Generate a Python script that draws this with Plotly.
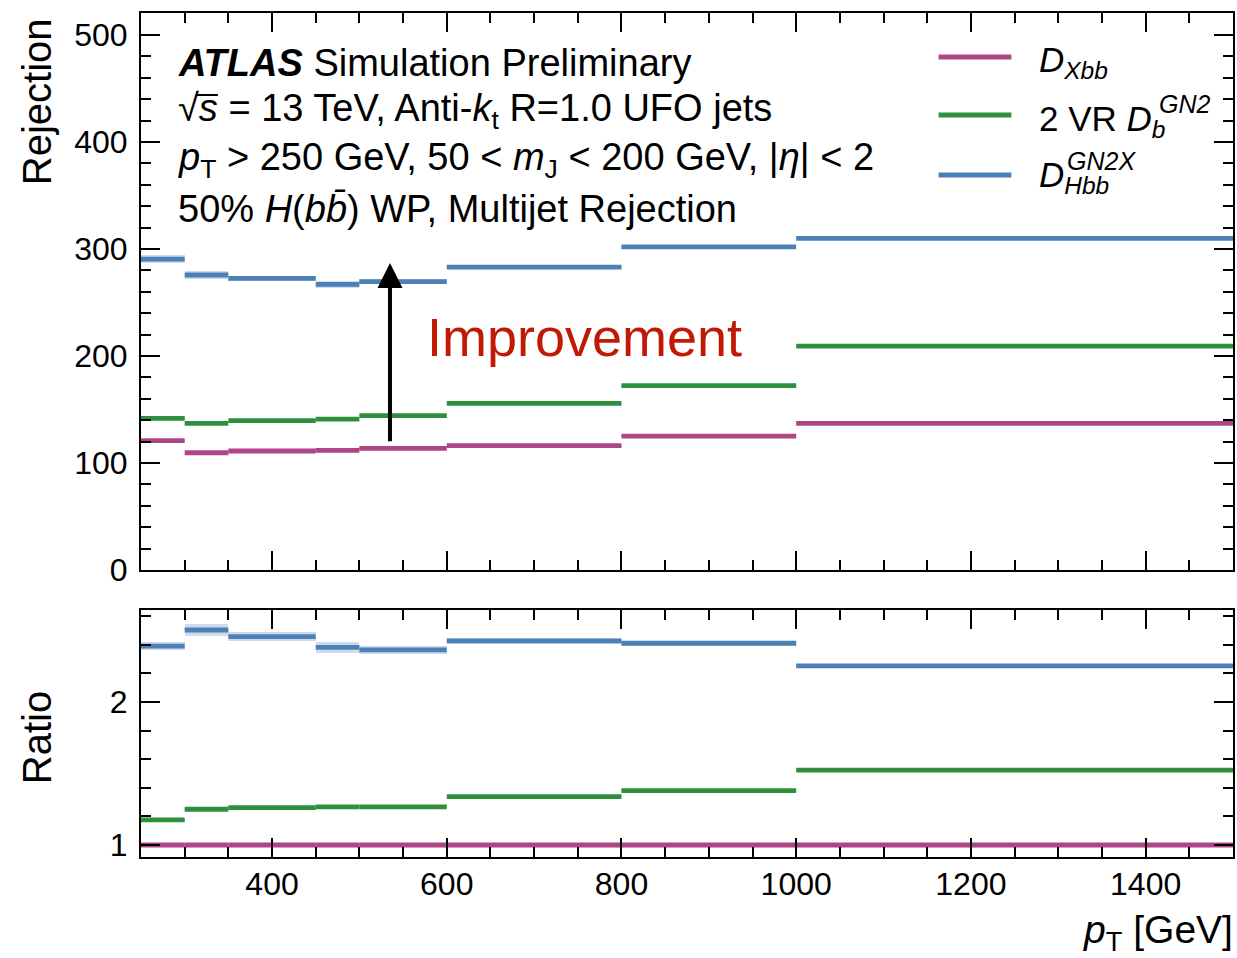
import plotly.graph_objects as go

# ---------------- data ----------------
edges = [250, 300, 350, 450, 500, 600, 800, 1000, 1500]

rej_xbb = [120.9, 109.6, 111.2, 111.8, 113.7, 116.2, 125.2, 137.1]
rej_vr = [141.8, 137.0, 139.6, 141.1, 144.2, 155.8, 172.3, 209.3]
rej_gn2x = [290.5, 275.7, 272.6, 267.0, 269.5, 283.0, 302.0, 310.0]
rej_xbb_err = [1.0, 1.0, 0.8, 1.0, 0.8, 0.8, 0.8, 0.8]
rej_vr_err = [1.2, 1.2, 1.0, 1.2, 1.0, 1.0, 1.0, 1.0]
rej_gn2x_err = [3.5, 3.5, 2.5, 3.5, 2.5, 2.0, 2.0, 2.0]

ratio_xbb = [1.0, 1.0, 1.0, 1.0, 1.0, 1.0, 1.0, 1.0]
ratio_vr = [1.175, 1.25, 1.261, 1.266, 1.266, 1.338, 1.38, 1.524]
ratio_gn2x = [2.39, 2.503, 2.457, 2.382, 2.364, 2.427, 2.41, 2.252]
ratio_xbb_err = [0.012, 0.012, 0.012, 0.012, 0.012, 0.012, 0.012, 0.012]
ratio_vr_err = [0.012, 0.012, 0.01, 0.012, 0.01, 0.01, 0.01, 0.01]
ratio_gn2x_err = [0.03, 0.045, 0.03, 0.04, 0.03, 0.02, 0.02, 0.015]

x_tickvals = [400, 600, 800, 1000, 1200, 1400]
rej_tickvals = [0, 100, 200, 300, 400, 500]
ratio_tickvals = [1, 2]

# legend labels: main part and stacked superscript
series_names = ["<i>D</i><sub><i>Xbb</i></sub>",
                "2 VR <i>D</i><sub><i>b</i></sub>",
                "<i>D</i><sub><i>Hbb</i></sub>"]
series_sups = ["", "<i>GN2</i>", "<i>GN2X</i>"]
colors = ["#ae4584", "#2f8f3e", "#4d80b6"]
band_colors = ["rgba(174,69,132,0.28)", "rgba(47,143,62,0.28)", "rgba(77,128,182,0.28)"]

FONT = "Liberation Sans"

fig = go.Figure()


def add_series(vals, errs, color, band, xa, ya):
    centers = [(edges[i] + edges[i + 1]) / 2 for i in range(len(vals))]
    widths = [edges[i + 1] - edges[i] for i in range(len(vals))]
    fig.add_trace(go.Bar(x=centers, width=widths,
                         base=[v - e for v, e in zip(vals, errs)],
                         y=[2 * e for e in errs],
                         marker=dict(color=band, line=dict(width=0)),
                         xaxis=xa, yaxis=ya, showlegend=False, hoverinfo="skip"))
    xs, ys = [], []
    for i, v in enumerate(vals):
        xs += [edges[i], edges[i + 1], None]
        ys += [v, v, None]
    fig.add_trace(go.Scatter(x=xs, y=ys, mode="lines",
                             line=dict(color=color, width=4.8),
                             xaxis=xa, yaxis=ya, showlegend=False))


top = [(rej_xbb, rej_xbb_err), (rej_vr, rej_vr_err), (rej_gn2x, rej_gn2x_err)]
bot = [(ratio_xbb, ratio_xbb_err), (ratio_vr, ratio_vr_err), (ratio_gn2x, ratio_gn2x_err)]
for k in range(3):
    add_series(top[k][0], top[k][1], colors[k], band_colors[k], "x", "y")
    add_series(bot[k][0], bot[k][1], colors[k], band_colors[k], "x2", "y2")

# ---------------- layout geometry ----------------
L, R, T, B = 141, 2, 13, 101
W, H = 1237, 958
PW, PH = W - L - R, H - T - B


def px(xp):
    return (xp - L) / PW


def py(yp):
    return (H - B - yp) / PH


axis_common = dict(showline=True, linewidth=2, linecolor="black", mirror="ticks",
                   ticks="inside", ticklen=19, tickwidth=2, tickcolor="black",
                   showgrid=False, zeroline=False,
                   tickfont=dict(family=FONT, size=32, color="black"))
minor_common = dict(ticks="inside", ticklen=10, tickwidth=1.5, tickcolor="black",
                    tickmode="linear", tick0=0)

fig.update_layout(
    width=W, height=H,
    margin=dict(l=L, r=R, t=T, b=B),
    paper_bgcolor="white", plot_bgcolor="white",
    barmode="overlay", bargap=0,
    showlegend=False,
    xaxis=dict(axis_common, domain=[0, 1], anchor="y", range=[250, 1500],
               tickmode="array", tickvals=x_tickvals, showticklabels=False,
               minor=dict(minor_common, dtick=50)),
    yaxis=dict(axis_common, domain=[py(570), 1], anchor="x", range=[0, 520.6],
               tickmode="array", tickvals=rej_tickvals, ticklabelstandoff=5,
               minor=dict(minor_common, dtick=20)),
    xaxis2=dict(axis_common, domain=[0, 1], anchor="y2", range=[250, 1500],
                tickmode="array", tickvals=x_tickvals, ticklabelstandoff=-2,
                minor=dict(minor_common, dtick=50)),
    yaxis2=dict(axis_common, domain=[0, py(610)], anchor="x2", range=[0.916, 2.643],
                tickmode="array", tickvals=ratio_tickvals, ticklabelstandoff=5,
                minor=dict(minor_common, dtick=0.2)),
)

ann = []


def text(xp, yp, s, size, xanchor="left", color="black", angle=0):
    ann.append(dict(x=px(xp), y=py(yp), xref="paper", yref="paper", text=s,
                    showarrow=False, xanchor=xanchor, yanchor="middle", textangle=angle,
                    font=dict(family=FONT, size=size, color=color)))


# axis titles
text(37, 102, "Rejection", 40, xanchor="center", angle=-90)
text(37, 738, "Ratio", 40, xanchor="center", angle=-90)
text(1237, 933, "<i>p</i><sub>T</sub> [GeV]", 39, xanchor="right")

# ATLAS label
ATL = 38
text(176, 63, "<b><i>ATLAS</i></b> Simulation Preliminary", ATL)
text(176, 111, "√<i>s</i> = 13 TeV, Anti-<i>k</i><sub>t</sub> R=1.0 UFO jets", ATL)
text(176, 160, "<i>p</i><sub>T</sub> &gt; 250 GeV, 50 &lt; <i>m</i><sub>J</sub> &lt; 200 GeV, |<i>η</i>| &lt; 2", ATL)
text(176, 209, "50% <i>H</i>(<i>b</i><i>b̄</i>) WP, Multijet Rejection", ATL)

# Improvement
text(426, 337, "Improvement", 54, color="#c01a05")

# manual legend
leg_y = [57, 115, 175]
txt_y = [62, 121, 177]
sup_x = [None, 1159, 1067]
sup_y = [None, 104, 161]
for k in range(3):
    text(1039, txt_y[k], series_names[k], 35)
    if series_sups[k]:
        text(sup_x[k], sup_y[k], series_sups[k], 25)

shapes = []
for k in range(3):
    shapes.append(dict(type="line", xref="paper", yref="paper",
                       x0=px(940), x1=px(1013), y0=py(leg_y[k]), y1=py(leg_y[k]),
                       line=dict(color=colors[k], width=4.8)))

# overline of the square root
shapes.append(dict(type="line", xref="paper", yref="paper",
                   x0=px(196), x1=px(218), y0=py(95), y1=py(95),
                   line=dict(color="black", width=2)))

# arrow
ann.append(dict(x=535, y=287, xref="x", yref="y", ax=535, ay=119, axref="x", ayref="y",
                text="", showarrow=True, arrowhead=2, arrowsize=1.25, arrowwidth=4,
                arrowcolor="black", standoff=0, startstandoff=0))

fig.update_layout(annotations=ann, shapes=shapes)

fig.write_html("out.html")
